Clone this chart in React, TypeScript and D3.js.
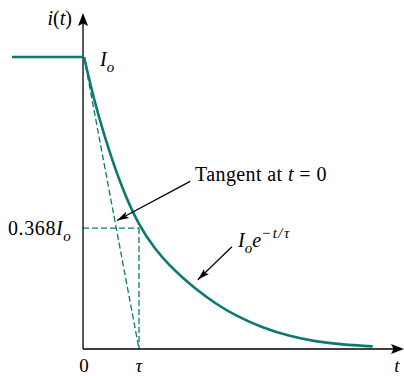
import React from 'react'
import * as d3 from 'd3'

// t in units of tau, i in units of Io
const preT = [-1.31, 0]
const curveT = [0, 0.17, 0.345, 0.655, 1.0, 1.3, 1.56, 1.8, 2.05, 2.41, 2.75, 3.25, 3.75, 4.2, 4.7, 5.25]
const curveI = [1.0, 0.862, 0.745, 0.565, 0.42, 0.34, 0.285, 0.243, 0.203, 0.153, 0.115, 0.072, 0.043, 0.026, 0.015, 0.009]
const tangentT = [0, 1]
const tangentI = [1, 0]
const levelI = 0.414
const tauT = 1

const W = 404
const H = 376
const teal = '#0a7a70'
const font = '"Liberation Serif", "Times New Roman", Times, serif'

const App = () => {
  const x = d3.scaleLinear().domain([-1.31, 5.82]).range([12, 404])
  const y = d3.scaleLinear().domain([0, 1]).range([349, 57])
  const x0 = x(0) - 1
  const yBase = y(0)

  const line = d3
    .line<[number, number]>()
    .x((d) => x(d[0]))
    .y((d) => y(d[1]))

  const curvePath = d3
    .line<[number, number]>()
    .x((d) => x(d[0]))
    .y((d) => y(d[1]))
    .curve(d3.curveBasis)(curveT.map((t, k) => [t, curveI[k]]))

  const arrowHead = (x1: number, y1: number, x2: number, y2: number, len: number, half: number) => {
    const a = Math.atan2(y2 - y1, x2 - x1)
    const bx = x2 - len * Math.cos(a)
    const by = y2 - len * Math.sin(a)
    const nx = -Math.sin(a)
    const ny = Math.cos(a)
    const ix = x2 - len * 0.8 * Math.cos(a)
    const iy = y2 - len * 0.8 * Math.sin(a)
    return `M${x2},${y2}L${bx + nx * half},${by + ny * half}L${ix},${iy}L${bx - nx * half},${by - ny * half}Z`
  }

  // annotation arrows (data units)
  const a1 = [x(1.93), y(0.574), x(0.6), y(0.44)]
  const a2 = [x(2.69), y(0.35), x(2.07), y(0.237)]

  return (
    <svg width={W} height={H} style={{ position: 'absolute', left: 0, top: 0, background: '#fff' }} fontFamily={font}>
      {/* dashed helpers */}
      <path
        d={line([[tangentT[0], tangentI[0]], [tangentT[1], tangentI[1]]]) || ''}
        fill="none"
        stroke={teal}
        strokeWidth={1.3}
        strokeDasharray="6,3"
      />
      <line x1={x0} x2={x(tauT)} y1={y(levelI)} y2={y(levelI)} stroke={teal} strokeWidth={1.3} strokeDasharray="6,3" />
      <line x1={x(tauT)} x2={x(tauT)} y1={y(levelI)} y2={yBase} stroke={teal} strokeWidth={1.3} strokeDasharray="6,3" />

      {/* axes */}
      <line x1={x0} x2={x0} y1={yBase} y2={20} stroke="#000" strokeWidth={1.3} />
      <path d={arrowHead(x0, 40, x0, 13, 13, 5)} fill="#000" />
      <line x1={x0} x2={396} y1={yBase} y2={yBase} stroke="#000" strokeWidth={1.3} />
      <path d={arrowHead(380, yBase, 404, yBase, 13, 5)} fill="#000" />

      {/* current */}
      <path d={line([[preT[0], 1], [preT[1], 1]]) || ''} fill="none" stroke={teal} strokeWidth={2.6} />
      <path d={curvePath || ''} fill="none" stroke={teal} strokeWidth={2.6} strokeLinejoin="round" />

      {/* annotation arrows */}
      <line x1={a1[0]} y1={a1[1]} x2={a1[2]} y2={a1[3]} stroke="#000" strokeWidth={1.2} />
      <path d={arrowHead(a1[0], a1[1], a1[2], a1[3], 12, 3.5)} fill="#000" />
      <line x1={a2[0]} y1={a2[1]} x2={a2[2]} y2={a2[3]} stroke="#000" strokeWidth={1.2} />
      <path d={arrowHead(a2[0], a2[1], a2[2], a2[3], 12, 3.5)} fill="#000" />

      {/* labels */}
      <text x={72} y={25} fontSize={20} textAnchor="end">
        <tspan fontStyle="italic">i</tspan>(<tspan fontStyle="italic">t</tspan>)
      </text>
      <text x={100} y={66} fontSize={20} fontStyle="italic">
        I<tspan fontSize={15} dy={6}>o</tspan>
      </text>
      <text x={8} y={235} fontSize={20} letterSpacing={0.6}>
        0.368<tspan fontStyle="italic">I</tspan>
        <tspan fontStyle="italic" fontSize={15} dy={6}>o</tspan>
      </text>
      <text x={x(0)} y={372} fontSize={19} textAnchor="middle">0</text>
      <text x={x(tauT)} y={372} fontSize={19} textAnchor="middle" fontStyle="italic">τ</text>
      <text x={397} y={372} fontSize={19} textAnchor="middle" fontStyle="italic">t</text>
      <text x={195} y={181} fontSize={20} letterSpacing={0.4}>
        Tangent at <tspan fontStyle="italic">t</tspan> = 0
      </text>
      <text x={238} y={247} fontSize={20} fontStyle="italic">
        I<tspan fontSize={15} dy={6}>o</tspan>
        <tspan dy={-6}>e</tspan>
        <tspan fontSize={15} dy={-9} letterSpacing={1.5}>−t/τ</tspan>
      </text>
    </svg>
  )
}

export default App
